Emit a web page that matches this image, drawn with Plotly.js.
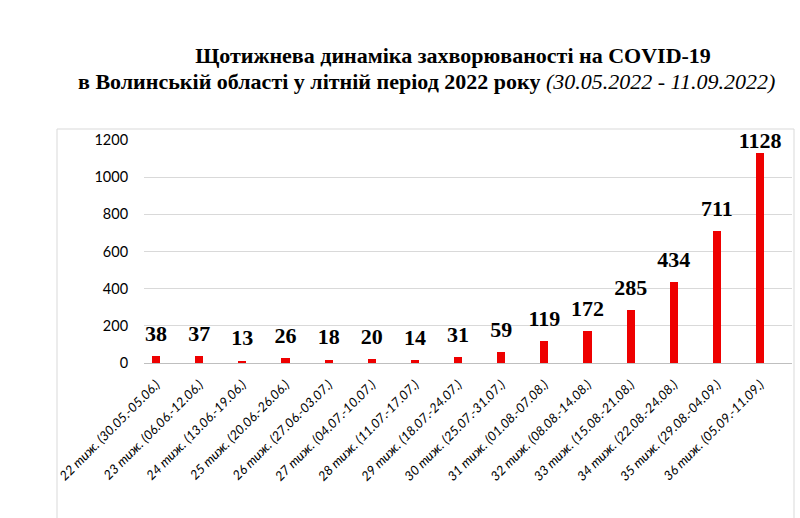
<!DOCTYPE html>
<html>
<head>
<meta charset="utf-8">
<script src="https://cdn.plot.ly/plotly-3.0.1.min.js"></script>
<style>html,body{margin:0;padding:0;background:#fff;}#chart{width:800px;height:518px;}</style>
</head>
<body>
<div id="chart"></div>
<script>
const weeks = ["22 тиж. (30.05.-05.06.)","23 тиж. (06.06.-12.06.)","24 тиж. (13.06.-19.06.)","25 тиж. (20.06.-26.06.)","26 тиж. (27.06.-03.07.)","27 тиж. (04.07.-10.07.)","28 тиж. (11.07.-17.07.)","29 тиж. (18.07.-24.07.)","30 тиж. (25.07.-31.07.)","31 тиж. (01.08.-07.08.)","32 тиж. (08.08.-14.08.)","33 тиж. (15.08.-21.08.)","34 тиж. (22.08.-24.08.)","35 тиж. (29.08.-04.09.)","36 тиж. (05.09.-11.09.)"];
const cases = [38,37,13,26,18,20,14,31,59,119,172,285,434,711,1128];
const yTicks = [0,200,400,600,800,1000,1200];
const titleLine1 = "Щотижнева динаміка захворюваності на COVID-19";
const titleLine2 = "в Волинській області у літній період 2022 року";
const titlePeriod = "(30.05.2022 - 11.09.2022)";

const labelSizes = cases.map((v, i) => i === cases.length - 1 ? 0 : 14);

const traces = [
  {
    type: "bar",
    x: weeks,
    y: cases,
    width: 0.19,
    marker: {color: "#ee0000"},
    hoverinfo: "x+y"
  },
  {
    type: "scatter",
    mode: "markers+text",
    x: weeks,
    y: cases,
    text: cases.map(String),
    textposition: "top center",
    marker: {size: labelSizes, opacity: 0},
    textfont: {family: "Liberation Serif, Times New Roman, serif", size: 22, color: "#000", weight: "bold"},
    cliponaxis: false,
    hoverinfo: "skip"
  }
];

const layout = {
  width: 800,
  height: 518,
  margin: {l: 144, r: 8, t: 140, b: 155},
  paper_bgcolor: "#fff",
  plot_bgcolor: "#fff",
  showlegend: false,
  title: {
    text: "<b>" + titleLine1 + "</b>",
    x: 453/800, xref: "container", xanchor: "center",
    y: 1 - 55/518, yref: "container", yanchor: "middle",
    font: {family: "Liberation Serif, Times New Roman, serif", size: 22, color: "#000"}
  },
  annotations: [{
    text: "<b>" + titleLine2 + "</b> <i>" + titlePeriod + "</i>",
    xref: "paper", yref: "paper",
    x: (426-144)/648, y: (363-82)/223,
    xanchor: "center", yanchor: "middle",
    showarrow: false,
    font: {family: "Liberation Serif, Times New Roman, serif", size: 22, color: "#000"}
  }],
  shapes: [{
    type: "rect", xref: "paper", yref: "paper",
    x0: (57-144)/648, x1: (794-144)/648,
    y0: (363-530)/223, y1: (363-129)/223,
    line: {color: "#d9d9d9", width: 1}, fillcolor: "rgba(0,0,0,0)", layer: "below"
  }],
  xaxis: {
    type: "category",
    range: [-0.28, 14.74],
    tickangle: -45,
    tickfont: {family: "Lato, Open Sans, sans-serif", size: 13, color: "#000", style: "italic"},
    showgrid: false,
    showline: true,
    linecolor: "#bfbfbf",
    linewidth: 1,
    ticks: "outside",
    ticklen: 8,
    tickcolor: "rgba(0,0,0,0)",
    fixedrange: true
  },
  yaxis: {
    range: [0, 1200],
    tickvals: yTicks,
    ticktext: yTicks.map(String),
    tickfont: {family: "Lato, Open Sans, sans-serif", size: 14.5, color: "#000"},
    showgrid: true,
    gridcolor: "#d9d9d9",
    gridwidth: 1,
    zeroline: false,
    showline: false,
    ticks: "outside",
    ticklen: 12,
    tickcolor: "rgba(0,0,0,0)",
    fixedrange: true
  },
  bargap: 0
};

Plotly.newPlot("chart", traces, layout, {displayModeBar: false, staticPlot: true});
</script>
</body>
</html>
